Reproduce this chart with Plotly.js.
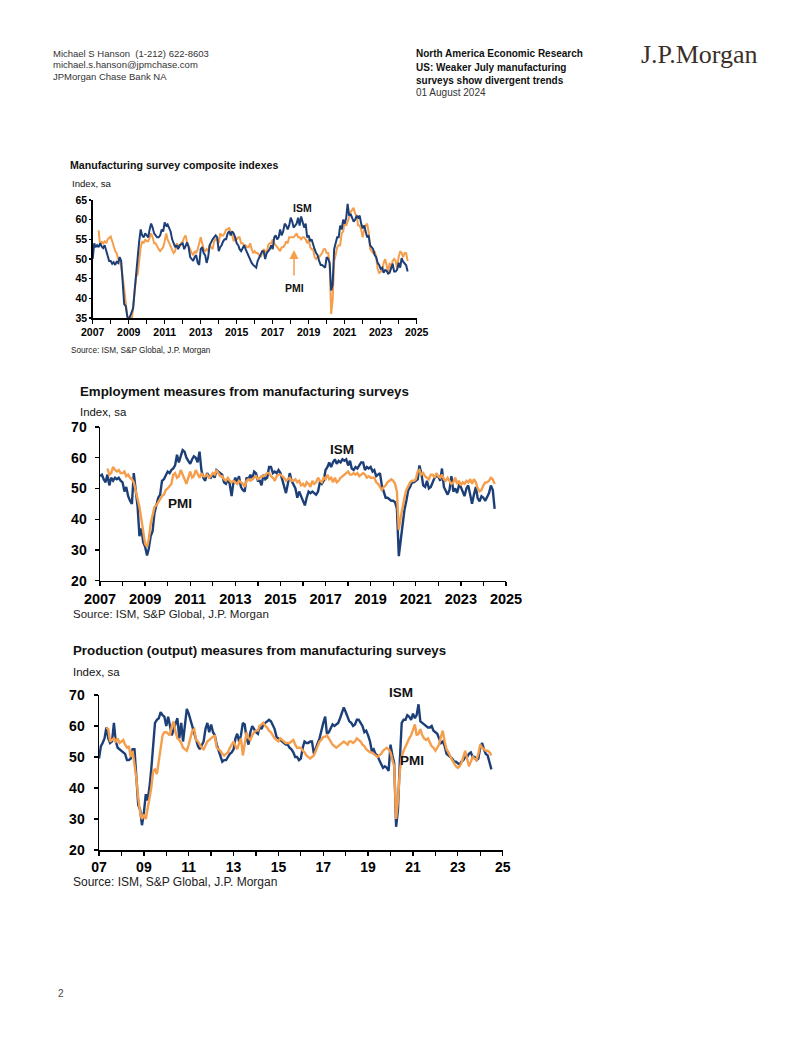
<!DOCTYPE html>
<html>
<head>
<meta charset="utf-8">
<script src="https://cdn.plot.ly/plotly-3.0.1.min.js"></script>
<style>
html,body{margin:0;padding:0;background:#fff;}
#page{width:802px;height:1037px;}
</style>
</head>
<body>
<div id="page"></div>
<script>
// ---------------- DATA (monthly, Jan 2007 - Jul 2024) ----------------
const startYear = 2007;
const nMonths = 211;

// Chart 1: composite indexes
const ismComposite = [
50.0,54.0,53.0,53.5,53.0,54.0,53.2,52.8,53.5,52.0,51.0,49.5,
49.5,48.8,49.2,48.5,49.3,49.0,50.5,49.5,44.0,38.5,38.0,35.5,
34.5,35.5,36.0,37.5,42.0,46.5,51.0,54.5,57.5,56.0,55.5,56.5,
56.0,55.5,57.5,59.0,58.0,56.5,56.0,55.5,55.5,56.0,57.5,57.0,
59.3,58.5,58.8,58.0,57.0,55.0,54.0,53.0,53.5,52.5,53.5,53.8,
54.0,52.5,53.5,54.2,53.0,50.5,50.0,49.5,50.5,51.0,49.0,48.5,
52.5,53.0,51.5,51.0,49.0,50.5,53.5,54.5,55.0,55.5,56.0,55.5,
52.0,53.0,53.5,54.5,55.0,55.0,56.5,57.0,56.0,57.0,56.5,55.5,
54.0,53.5,52.5,52.0,53.0,53.5,52.5,51.5,50.5,50.0,49.0,48.5,
48.2,47.8,49.5,50.5,51.0,52.0,52.0,50.0,51.5,52.0,52.5,53.5,
52.5,55.5,56.0,55.0,55.5,57.5,56.0,57.0,59.0,58.5,57.5,58.5,
60.5,59.5,58.0,58.5,59.0,60.5,58.5,60.8,59.5,58.0,59.0,55.5,
56.0,54.5,55.0,53.5,52.5,51.5,51.0,49.5,48.5,48.5,48.0,47.8,
50.5,50.0,49.0,42.0,43.5,52.5,54.0,55.5,55.5,58.5,57.5,60.0,
59.0,60.5,64.0,61.0,61.5,60.5,59.5,60.0,61.0,60.5,61.0,59.0,
57.8,58.5,57.0,55.5,56.0,53.5,53.0,52.5,51.0,50.5,49.0,48.5,
47.5,47.8,46.5,47.2,47.0,46.3,46.5,47.5,48.8,46.8,46.8,47.3,
49.0,47.8,50.2,49.3,48.7,48.4,46.8
];
const pmiComposite = [
null,null,null,null,57.3,53.5,54.5,54.0,54.5,54.0,55.0,55.5,
55.7,54.5,53.0,52.0,51.5,50.0,49.5,48.0,45.5,42.0,37.5,34.0,
32.5,32.0,34.0,38.0,42.0,45.5,46.0,49.5,53.0,54.5,54.0,55.0,
54.5,54.5,55.5,56.5,55.5,54.0,54.0,53.0,52.5,52.0,52.5,53.0,
54.5,56.5,55.0,54.0,53.5,52.0,51.5,52.0,54.0,53.5,53.0,54.0,
54.5,55.5,56.0,54.0,53.0,52.5,51.5,51.0,52.0,51.5,52.5,54.0,
55.5,54.0,52.5,52.0,52.5,52.0,53.5,53.0,52.5,54.5,55.0,55.0,
54.0,56.5,56.0,56.0,56.5,57.5,57.5,58.0,57.0,56.0,54.5,55.5,
55.0,55.5,55.5,54.0,54.0,53.5,53.5,53.0,53.0,54.0,52.5,51.5,
52.0,51.5,51.5,51.0,50.5,51.5,52.5,52.0,51.5,53.5,54.0,54.0,
55.0,54.0,53.5,53.0,52.5,52.0,53.0,53.0,53.5,54.5,54.0,55.5,
55.5,55.5,55.5,56.0,56.5,55.5,55.5,55.0,55.5,55.5,55.0,54.0,
55.0,53.0,52.5,52.5,50.5,50.0,50.5,50.5,51.0,51.5,52.5,52.5,
51.5,51.5,49.0,36.0,39.5,49.5,51.0,53.0,53.5,53.5,56.5,57.0,
59.5,58.5,59.5,60.5,62.0,62.5,63.0,61.5,61.0,58.5,58.5,57.5,
55.5,57.5,58.5,59.0,57.0,52.5,52.0,51.5,52.0,50.5,47.5,46.5,
46.8,47.0,49.0,50.0,48.5,46.5,49.0,47.5,49.5,50.0,49.5,47.5,
50.5,52.0,51.5,50.5,51.5,51.5,49.5
];

// Chart 2: employment
const ismEmployment = [
54.0,54.5,53.0,52.0,54.5,51.0,53.5,52.5,53.5,53.0,53.5,52.5,
52.0,49.0,50.5,47.5,46.0,45.0,55.0,50.0,44.0,34.5,37.0,32.5,
31.0,28.2,30.5,34.5,36.0,42.0,44.5,47.0,48.0,52.5,53.0,54.5,
55.5,55.0,56.0,56.5,57.5,61.0,58.5,60.5,62.5,62.0,60.0,59.0,
58.0,59.5,60.5,60.0,58.5,62.0,56.0,53.5,52.5,55.0,54.0,53.5,
54.5,53.5,56.0,55.5,55.0,54.5,52.0,51.5,53.0,51.5,47.5,52.0,
53.5,52.0,54.0,50.5,49.5,49.0,53.5,53.0,54.5,53.0,55.5,55.0,
52.5,52.5,51.0,54.5,53.0,53.5,57.0,57.0,55.0,55.5,55.0,56.0,
55.0,52.5,51.0,48.5,51.5,55.0,52.5,51.0,50.0,47.0,49.0,47.5,
46.0,44.5,47.0,49.0,48.5,49.0,48.5,48.0,49.0,52.0,51.5,52.5,
56.0,57.0,58.5,57.0,58.5,59.5,58.0,59.0,58.5,59.5,59.0,59.5,
57.5,59.0,56.5,56.0,57.0,56.5,57.5,58.5,58.5,56.0,57.0,56.5,
57.0,55.5,56.0,54.0,54.5,55.0,51.0,48.5,47.0,47.0,46.5,46.0,
46.0,45.5,43.5,28.0,33.0,39.0,43.0,46.0,49.5,50.5,52.0,52.0,
52.5,53.0,57.5,55.0,51.0,50.5,52.5,50.0,50.5,52.0,53.5,54.0,
54.0,52.5,56.5,50.5,49.5,48.0,49.5,54.0,49.0,50.0,48.5,51.0,
50.5,49.0,47.5,50.0,51.0,48.0,45.0,48.0,50.5,46.8,45.8,47.5,
47.0,46.0,47.5,48.5,51.0,49.5,43.4
];
const pmiEmployment = [
null,null,null,null,56.5,54.5,55.0,57.0,56.0,55.5,56.0,55.0,
55.0,55.5,54.0,54.5,53.5,53.0,52.0,49.5,46.0,44.0,40.0,36.0,
32.0,31.0,33.5,38.5,41.5,44.0,44.5,45.5,46.5,47.5,48.0,49.5,
50.0,51.0,51.5,54.5,55.0,53.5,54.0,56.0,54.5,52.5,51.5,53.5,
55.5,53.5,54.0,56.0,54.5,53.5,55.0,54.0,54.0,54.5,53.5,54.0,
55.0,54.5,56.0,55.0,54.0,54.0,53.0,52.5,53.5,52.5,52.0,52.5,
52.0,51.5,52.5,52.0,51.5,50.5,52.5,53.0,52.5,53.0,53.5,54.0,
53.0,53.5,54.0,54.0,54.5,55.0,55.0,54.0,53.5,52.5,54.0,54.5,
54.5,54.0,53.5,52.5,53.0,53.5,52.5,52.5,53.0,52.0,52.5,51.0,
51.5,50.5,52.0,51.5,50.5,52.5,51.5,52.0,53.5,52.5,52.0,53.5,
53.0,54.5,53.0,53.5,52.0,53.5,52.0,52.5,53.5,54.0,54.5,55.0,
55.5,54.5,54.5,55.0,54.5,55.0,54.0,54.5,55.0,54.5,53.5,54.0,
53.5,53.5,53.5,52.0,51.5,50.5,49.5,50.5,51.0,52.0,52.5,53.0,
52.5,51.5,49.0,36.5,40.5,44.0,47.0,49.5,51.0,52.0,52.5,52.5,
53.0,55.5,56.0,54.5,55.0,54.0,53.5,53.0,54.5,54.5,53.5,55.0,
54.0,53.5,54.5,53.0,52.5,53.5,52.5,51.5,52.0,53.5,51.5,52.5,
51.0,52.0,51.5,52.5,52.0,53.0,51.5,53.0,52.0,50.0,49.0,49.5,
51.0,52.0,52.0,52.5,53.5,53.0,51.5
];

// Chart 3: production (output)
const ismProduction = [
49.5,53.5,54.5,56.0,59.5,56.0,54.5,55.0,61.0,55.0,53.0,52.5,
52.0,51.5,51.0,49.0,49.0,49.5,52.5,52.5,44.0,34.5,33.0,28.0,
32.0,38.0,36.0,40.0,46.0,55.0,61.0,62.0,62.5,64.5,63.5,63.0,
60.0,63.0,60.0,57.0,59.0,60.5,62.5,56.0,61.0,55.0,60.0,65.5,
64.0,62.0,60.0,57.5,56.0,53.5,52.5,54.0,55.0,59.0,61.0,58.0,
60.5,58.0,57.0,54.0,52.0,50.5,48.5,49.0,49.0,50.0,51.0,51.5,
52.5,56.0,57.5,55.0,57.0,61.0,60.5,56.0,54.0,58.0,60.0,59.0,
58.0,57.5,60.0,59.0,60.5,61.0,61.5,62.0,61.5,60.5,59.0,56.5,
56.0,55.5,55.0,54.5,54.0,54.0,53.0,52.5,51.5,50.0,50.0,49.0,
49.5,53.0,55.0,54.5,54.5,55.0,55.0,51.0,53.0,54.5,56.0,59.0,
61.0,63.0,57.5,58.0,59.5,60.5,60.0,60.5,61.0,62.5,64.0,66.0,
64.5,62.5,61.5,61.0,60.0,60.5,62.0,62.0,61.0,60.0,58.0,58.5,
57.0,55.0,52.0,52.5,51.0,50.5,49.0,47.5,46.5,47.0,46.5,45.5,
54.0,50.5,48.0,27.5,33.0,49.0,61.0,62.0,62.0,63.5,63.0,62.0,
64.0,62.5,63.5,67.0,61.5,61.0,60.5,60.0,59.5,59.5,60.0,58.5,
58.0,57.5,56.0,54.5,55.0,53.5,51.0,50.5,50.0,49.5,48.5,48.5,
48.0,47.5,48.5,49.0,50.0,50.0,51.0,51.5,50.0,50.0,49.0,49.5,
53.0,54.5,52.5,51.0,50.5,48.0,46.0
];
const pmiProduction = [
null,null,null,null,59.5,59.0,55.0,55.5,56.0,55.0,56.0,54.5,
55.0,55.5,54.0,53.0,53.5,50.0,52.0,48.0,43.0,37.0,32.0,30.0,
31.5,30.0,33.0,36.0,40.0,45.5,46.0,44.5,48.5,53.0,57.0,58.0,
58.0,57.5,57.0,60.0,61.5,58.0,56.0,55.5,54.5,53.0,52.5,52.0,
54.0,56.5,58.5,59.0,55.5,55.0,54.0,53.0,52.5,54.0,55.0,55.5,
56.0,56.5,57.0,53.0,52.5,52.0,51.0,50.5,51.0,51.5,53.0,54.0,
55.0,53.5,52.5,54.5,56.0,50.5,54.0,58.0,56.0,55.5,57.0,58.0,
58.5,58.5,60.0,60.5,61.0,60.0,59.5,58.5,58.0,57.0,56.0,55.5,
55.0,56.0,55.5,55.0,54.5,54.5,54.5,55.0,55.5,54.0,53.0,53.0,
53.0,52.0,51.5,50.5,50.0,49.5,50.0,50.5,52.0,53.5,55.0,55.5,
56.5,56.5,57.0,56.0,55.0,54.0,53.5,53.0,53.5,54.0,54.5,55.0,
54.5,54.0,55.0,55.0,54.5,55.0,56.0,55.5,55.0,54.0,53.5,52.5,
52.0,51.5,51.5,51.0,50.5,50.0,50.5,51.0,52.0,52.5,53.0,52.5,
51.5,49.0,47.0,30.0,36.0,45.5,50.0,52.0,53.5,55.0,56.0,57.0,
59.0,60.5,57.0,57.5,59.0,57.0,56.0,55.5,56.0,55.0,53.5,53.0,
52.0,53.0,54.0,56.5,58.5,55.0,52.5,51.5,50.0,49.0,48.0,47.0,
46.5,47.0,48.0,50.0,52.0,49.5,47.0,48.5,50.0,49.5,49.0,51.0,
54.0,53.0,52.5,52.0,52.0,51.5,50.5
];

const seriesNames = ['ISM', 'PMI'];

// ---------------- BUILD ----------------
const dates = [];
for (let i = 0; i < nMonths; i++) {
  const y = startYear + Math.floor(i / 12);
  const m = (i % 12) + 1;
  dates.push(y + '-' + String(m).padStart(2, '0') + '-01');
}

const W = 802, H = 1037;
const px = v => v / W;
const py = v => 1 - v / H;

const NAVY = '#1d3f77';
const ORANGE = '#f59e4c';
const FONT = 'Liberation Sans, Arial, sans-serif';

function line(y, color, width, xa, ya) {
  return {type: 'scatter', mode: 'lines', x: dates, y: y, xaxis: xa, yaxis: ya,
    line: {color: color, width: width}, hoverinfo: 'skip', showlegend: false, connectgaps: false};
}

const traces = [
  line(pmiComposite, ORANGE, 2, 'x', 'y'),
  line(ismComposite, NAVY, 2, 'x', 'y'),
  line(ismEmployment, NAVY, 2.4, 'x2', 'y2'),
  line(pmiEmployment, ORANGE, 2.4, 'x2', 'y2'),
  line(ismProduction, NAVY, 2.4, 'x3', 'y3'),
  line(pmiProduction, ORANGE, 2.4, 'x3', 'y3')
];

function xAxis(l, r, anchor, fmt, size) {
  return {domain: [px(l), px(r)], anchor: anchor, type: 'date',
    range: ['2007-01-01', '2025-01-01'], tick0: '2007-01-01', dtick: 'M12', ticklabelstep: 2,
    tickformat: fmt, ticks: 'outside', ticklen: 4, tickwidth: 1.3, tickcolor: '#000',
    showline: true, linecolor: '#000', linewidth: 1.5, showgrid: false, zeroline: false,
    tickfont: {family: FONT, size: size, color: '#000', weight: 'bold'}, fixedrange: true};
}
function yAxis(t, b, anchor, lo, hi, dt, size, standoff, tlen) {
  return {domain: [py(b), py(t)], anchor: anchor, range: [lo, hi], dtick: dt, tick0: lo,
    ticks: 'outside', ticklen: tlen, tickwidth: 1.3, tickcolor: '#000', ticklabelstandoff: standoff,
    showline: true, linecolor: '#000', linewidth: 1.5, showgrid: false, zeroline: false,
    tickfont: {family: FONT, size: size, color: '#000', weight: 'bold'}, fixedrange: true};
}

function T(text, x, y, size, opt) {
  opt = opt || {};
  const center = opt.center;
  return Object.assign({xref: 'paper', yref: 'paper', x: px(center ? x : x - 2), y: py(y), text: text,
    showarrow: false, xanchor: center ? 'center' : 'left', yanchor: 'middle',
    font: {family: opt.family || FONT, size: size, color: opt.color || '#111', weight: opt.bold ? 'bold' : 'normal'}}, opt.extra || {});
}

const annotations = [
  // header
  T('Michael S Hanson  (1-212) 622-8603', 53, 53, 9.5, {color: '#333'}),
  T('michael.s.hanson@jpmchase.com', 53, 65, 9.5, {color: '#333'}),
  T('JPMorgan Chase Bank NA', 53, 77, 9.5, {color: '#333'}),
  T('North America Economic Research', 416, 54, 10, {bold: true}),
  T('US: Weaker July manufacturing', 416, 68, 10, {bold: true}),
  T('surveys show divergent trends', 416, 80, 10, {bold: true}),
  T('01 August 2024', 416, 92, 10, {color: '#333'}),
  T('J.P.Morgan', 641, 55, 26, {color: '#3b2f2a', family: 'Liberation Serif, DejaVu Serif, serif'}),
  // chart 1
  T('Manufacturing survey composite indexes', 70, 165, 10.6, {bold: true}),
  T('Index, sa', 72, 183, 9.6),
  T('Source: ISM, S&P Global, J.P. Morgan', 71, 350, 8.2, {color: '#222'}),
  T(seriesNames[0], 302, 208, 10.5, {bold: true, center: true}),
  T(seriesNames[1], 294, 288, 10.5, {bold: true, center: true}),
  {xref: 'paper', yref: 'paper', x: px(294), y: py(250), ax: 0, ay: 27, text: '', showarrow: true,
   arrowhead: 2, arrowsize: 1.2, arrowwidth: 1.5, arrowcolor: ORANGE},
  // chart 2
  T('Employment measures from manufacturing surveys', 80, 391, 13.3, {bold: true}),
  T('Index, sa', 80, 412, 11.4),
  T('Source: ISM, S&P Global, J.P. Morgan', 73, 614, 11.5, {color: '#222'}),
  T(seriesNames[0], 342, 449, 13.5, {bold: true, center: true}),
  T(seriesNames[1], 180, 503, 13.5, {bold: true, center: true}),
  // chart 3
  T('Production (output) measures from manufacturing surveys', 73, 650, 13.3, {bold: true}),
  T('Index, sa', 73, 672, 11.5),
  T('Source: ISM, S&P Global, J.P. Morgan', 73, 882, 12, {color: '#222'}),
  T(seriesNames[0], 401, 692, 13.5, {bold: true, center: true}),
  T(seriesNames[1], 412, 760, 13.5, {bold: true, center: true}),
  // page number
  T('2', 58, 993, 10, {color: '#444'})
];

const layout = {
  width: W, height: H, margin: {l: 0, r: 0, t: 0, b: 0},
  paper_bgcolor: '#fff', plot_bgcolor: 'rgba(0,0,0,0)', showlegend: false,
  font: {family: FONT},
  xaxis: xAxis(92.7, 416.7, 'y', '%Y', 10.5),
  yaxis: yAxis(200, 318, 'x', 35, 65, 5, 10.5, 0, 2),
  xaxis2: xAxis(100, 506, 'y2', '%Y', 14.5),
  yaxis2: yAxis(427, 580.7, 'x2', 20, 70, 10, 14, 5, 4),
  xaxis3: xAxis(99, 502.7, 'y3', '%y', 14),
  yaxis3: yAxis(695, 850, 'x3', 20, 70, 10, 14, 6, 4),
  annotations: annotations
};

Plotly.newPlot('page', traces, layout, {staticPlot: true, displayModeBar: false});
</script>
</body>
</html>
